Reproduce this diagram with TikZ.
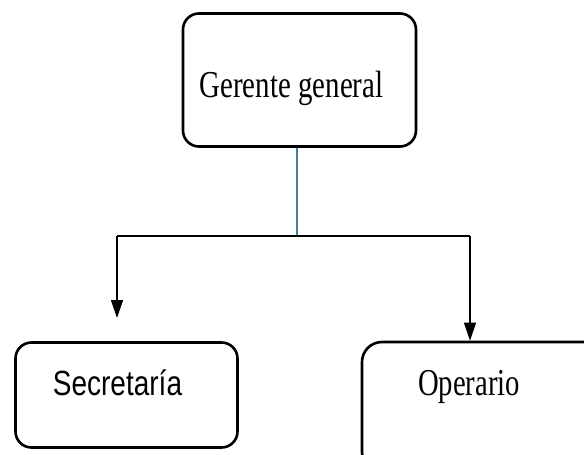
\documentclass[tikz,border=0pt]{standalone}
\usepackage{fontspec}
\setmainfont{Liberation Serif}
\newfontfamily\sansf{Liberation Sans}
\usetikzlibrary{arrows.meta}
\definecolor{linkblue}{RGB}{74,126,154}
\tikzset{
  box/.style={draw=black, line width=2.6pt, rounded corners=16pt, fill=white, inner sep=0pt},
  conn/.style={draw=black, line width=1.4pt},
  arr/.style={conn, -{Triangle[width=12pt,length=18pt]}},
  lbl/.style={inner sep=0pt, anchor=base}
}
\begin{document}
\begin{tikzpicture}[x=1pt,y=-1pt]
\useasboundingbox (0,0) rectangle (584,455);
\clip (0,0) rectangle (584,455);
\fill[white] (0,0) rectangle (584,455);
% boxes
\node[box, minimum width=233pt, minimum height=133pt] (gg) at (299.5,80) {};
\node[box, minimum width=222pt, minimum height=105pt] (sec) at (126.5,395) {};
\node[box, minimum width=250pt, minimum height=130pt, rounded corners=20pt] (op) at (487,407) {};
% texts
\node[lbl] (ggt) at (291.5,97) {\fontsize{38}{40}\selectfont\scalebox{0.76}[1]{Gerente general}};
\node[lbl] (sect) at (117.5,395) {\fontsize{35}{38}\selectfont\sansf\scalebox{0.80}[1]{Secretaría}};
\node[lbl] (opt) at (469,395) {\fontsize{38}{40}\selectfont\scalebox{0.755}[1]{Operario}};
% connectors
\coordinate (j) at (297,236);
\coordinate (jl) at (117,236);
\coordinate (jr) at (470,236);
\coordinate (secend) at (117,318);
\draw[line width=1.4pt, linkblue] (gg.south -| j) -- (j);
\draw[conn] (jl) -- (jr);
\draw[arr] (jl) -- (secend);
\draw[arr] (jr) -- (jr |- op.north);
\end{tikzpicture}
\end{document}
